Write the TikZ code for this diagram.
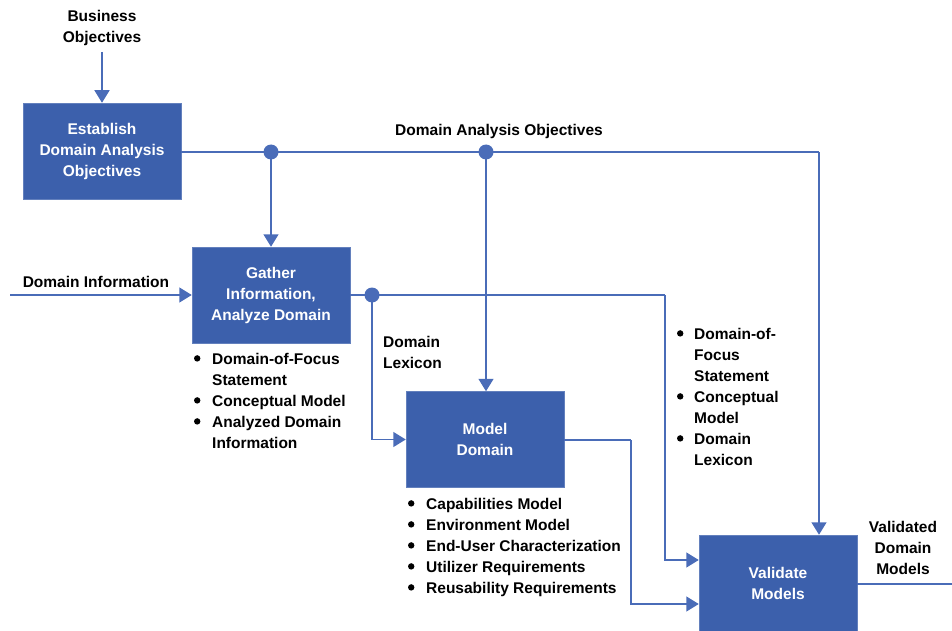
\documentclass[tikz,border=0pt]{standalone}
\usepackage{fontspec}
\setmainfont{Liberation Sans}
\usetikzlibrary{arrows.meta}
\definecolor{boxblue}{RGB}{60,96,172}
\definecolor{lineblue}{RGB}{74,108,184}
\newcommand{\txtfont}{\fontsize{15.5}{21}\selectfont\bfseries}
\newcommand{\bl}{\tikz[x=1pt,y=1pt,baseline=0pt]{\path (0,0) rectangle (7,1); \fill[black] (3.5,6) circle (3.2);}}
\tikzset{
  every node/.style={font=\txtfont, inner sep=0pt, text=black},
  box/.style={fill=boxblue, draw=boxblue!80!white, line width=0.5pt, minimum width=158pt, minimum height=96pt, align=center, text=white},
  lbl/.style={align=center},
  conn/.style={draw=lineblue, line width=1.5pt},
  arr/.style={conn, -{Triangle[length=12.5pt,width=15pt]}},
  bul/.style={anchor=north west, align=left},
}
\newcommand{\blist}[2]{\begin{tabular}{@{}p{#1}@{}l@{}}#2\end{tabular}}
\begin{document}
\begin{tikzpicture}[x=1pt,y=-1pt]
\useasboundingbox (0,0) rectangle (952,631);
% boxes
\node[box] (b1) at (102,151) {Establish\\Domain Analysis\\Objectives};
\node[box] (b2) at (271,295) {Gather\\Information,\\Analyze Domain};
\node[box] (b3) at (485,439.5) {Model\\Domain};
\node[box] (b4) at (778,583) {Validate\\Models};
% labels
\node[lbl] (lbo) at (102,27.5) {Business\\Objectives};
\node[lbl] (ldao) at (499,131.5) {Domain Analysis Objectives};
\node[lbl] (ldi) at (96,282) {Domain Information};
\node[align=left, anchor=west] (ldl) at (383,352) {Domain\\Lexicon};
\node[lbl] (lvdm) at (903,548) {Validated\\Domain\\Models};
% bullet lists
\node[bul] (l2) at (193.5,349.5) {\blist{18.5pt}{\bl & Domain-of-Focus\\ & Statement\\ \bl & Conceptual Model\\ \bl & Analyzed Domain\\ & Information}};
\node[bul] (l3) at (407.5,494.5) {\blist{18.5pt}{\bl & Capabilities Model\\ \bl & Environment Model\\ \bl & End-User Characterization\\ \bl & Utilizer Requirements\\ \bl & Reusability Requirements}};
\node[bul] (l4) at (676.5,324.5) {\blist{17.5pt}{\bl & Domain-of-\\ & Focus\\ & Statement\\ \bl & Conceptual\\ & Model\\ \bl & Domain\\ & Lexicon}};
% coordinates
\coordinate (src) at (102,52);
\coordinate (j1) at (271,152);
\coordinate (j2) at (486,152);
\coordinate (c1) at (819,152);
\coordinate (din) at (10,295);
\coordinate (j3) at (372,295);
\coordinate (c2) at (665,295);
\coordinate (c3) at (631,440);
\coordinate (y1) at (0,560);
\coordinate (y2) at (0,604);
\coordinate (out) at (966,584);
% connectors
\draw[arr] (src) -- (b1.north);
\draw[conn] (b1.east |- j1) -- (c1);
\draw[arr] (c1) -- (c1 |- b4.north);
\draw[arr] (j1) -- (b2.north);
\draw[arr] (j2) -- (j2 |- b3.north);
\draw[arr] (din) -- (b2.west);
\draw[conn] (b2.east) -- (c2);
\draw[arr] (c2) |- (b4.west |- y1);
\draw[arr] (j3) |- (b3.west);
\draw[conn] (b3.east |- c3) -- (c3);
\draw[arr] (c3) |- (b4.west |- y2);
\draw[arr] (b4.east |- out) -- (out);
% junction dots
\fill[lineblue] (j1) circle (7.5pt);
\fill[lineblue] (j2) circle (7.5pt);
\fill[lineblue] (j3) circle (7.5pt);
\end{tikzpicture}
\end{document}
